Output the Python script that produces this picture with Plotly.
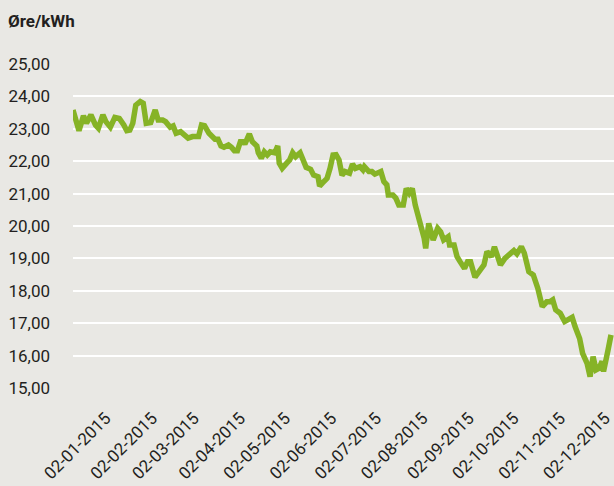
import pandas as pd
import plotly.graph_objects as go

# Days since 2015-01-02 and price in øre/kWh
days = [-22, -18, -15, -13, -10, -7, -5, -2, 0, 3, 6, 9, 12, 14, 16, 18, 20, 23, 25, 27,
        30, 33, 35, 38, 40, 43, 45, 47, 50, 55, 58, 62, 64, 66, 69, 73, 75, 77, 79, 82,
        84, 86, 88, 90, 92, 93, 96, 98, 101, 102, 104, 106, 108, 110, 113, 115, 116, 118, 121, 123,
        125, 127, 130, 132, 134, 137, 139, 142, 143, 145, 148, 150, 152, 154, 156, 158, 160, 163, 165, 167,
        170, 172, 173, 176, 178, 180, 184, 186, 188, 189, 192, 194, 196, 199, 201, 203, 205, 207, 209, 213,
        214, 216, 219, 222, 224, 226, 229, 230, 233, 235, 237, 240, 242, 244, 247, 250, 253, 255, 258, 260,
        264, 267, 270, 273, 275, 278, 280, 283, 286, 289, 292, 295, 297, 299, 301, 304, 307, 309, 312, 314,
        317, 319, 322, 324, 326, 328, 330, 332, 333, 336, 338]
price = [23.58, 22.94, 23.40, 23.17, 23.43, 23.12, 23.02, 23.43, 23.22, 23.05, 23.35, 23.32, 23.12, 22.94, 22.96, 23.17, 23.73, 23.84, 23.79, 23.17,
         23.19, 23.58, 23.27, 23.27, 23.22, 23.05, 23.09, 22.86, 22.91, 22.71, 22.76, 22.76, 23.12, 23.10, 22.86, 22.68, 22.68, 22.47, 22.43, 22.50,
         22.43, 22.32, 22.32, 22.60, 22.60, 22.53, 22.84, 22.60, 22.47, 22.26, 22.09, 22.29, 22.19, 22.29, 22.26, 22.47, 21.94, 21.78, 21.94, 22.04,
         22.26, 22.14, 22.26, 22.04, 21.81, 21.75, 21.57, 21.52, 21.23, 21.33, 21.47, 21.78, 22.19, 22.20, 22.04, 21.57, 21.68, 21.63, 21.91, 21.78,
         21.83, 21.73, 21.83, 21.68, 21.68, 21.60, 21.68, 21.37, 21.27, 20.96, 20.96, 20.86, 20.65, 20.65, 21.16, 21.01, 21.16, 20.65, 20.34, 19.62,
         19.31, 20.08, 19.57, 19.93, 19.82, 19.57, 19.67, 19.41, 19.41, 19.05, 18.90, 18.69, 18.90, 18.90, 18.42, 18.62, 18.80, 19.21, 19.05, 19.36,
         18.80, 19.00, 19.10, 19.24, 19.14, 19.36, 19.16, 18.59, 18.49, 18.08, 17.51, 17.66, 17.66, 17.72, 17.41, 17.31, 17.05, 17.12, 17.18, 16.89,
         16.53, 16.07, 15.76, 15.35, 15.97, 15.56, 15.61, 15.82, 15.51, 16.17, 16.64]

tick_dates = ["2015-01-02", "2015-02-02", "2015-03-02", "2015-04-02", "2015-05-02", "2015-06-02",
              "2015-07-02", "2015-08-02", "2015-09-02", "2015-10-02", "2015-11-02", "2015-12-02"]
tick_labels = ["02-01-2015", "02-02-2015", "02-03-2015", "02-04-2015", "02-05-2015", "02-06-2015",
               "02-07-2015", "02-08-2015", "02-09-2015", "02-10-2015", "02-11-2015", "02-12-2015"]
y_ticks = [15, 16, 17, 18, 19, 20, 21, 22, 23, 24, 25]

base = pd.Timestamp("2015-01-02")
dates = base + pd.to_timedelta(days, unit="D")

BG = "#e9e8e4"
GREEN = "#86b326"
TXT = "#231f20"
FONT = "Roboto"

fig = go.Figure()
fig.add_trace(go.Scatter(x=dates, y=price, mode="lines",
                         line=dict(color=GREEN, width=5.5), hoverinfo="skip"))

fig.update_layout(
    width=614, height=486,
    margin=dict(l=73, r=0, t=64, b=98, autoexpand=False),
    paper_bgcolor=BG, plot_bgcolor=BG,
    showlegend=False,
    separators=",.",
    font=dict(family=FONT, size=17, color=TXT),
    xaxis=dict(
        type="date",
        range=[base - pd.Timedelta(days=22), base + pd.Timedelta(days=340)],
        tickvals=tick_dates, ticktext=tick_labels,
        tickangle=-45, showgrid=False, zeroline=False, showline=False,
        ticks="", ticklabelstandoff=16, ticklabeloverflow="allow",
        tickfont=dict(family=FONT, size=17, color=TXT),
    ),
    yaxis=dict(
        range=[15, 25], tickvals=y_ticks, tickformat=".2f",
        showgrid=True, gridcolor="white", gridwidth=2,
        zeroline=False, showline=False, ticks="",
        ticklabelstandoff=22,
        tickfont=dict(family=FONT, size=17, color=TXT),
    ),
    annotations=[dict(text="<b>Øre/kWh</b>", xref="paper", yref="paper",
                      x=0, y=1, xanchor="left", yanchor="middle",
                      xshift=-67, yshift=43, showarrow=False,
                      font=dict(family=FONT, size=17, color=TXT))],
)

fig.write_html("out.html", config={"displayModeBar": False},
               post_script="document.body.style.margin='0px';document.body.style.overflow='hidden';")
